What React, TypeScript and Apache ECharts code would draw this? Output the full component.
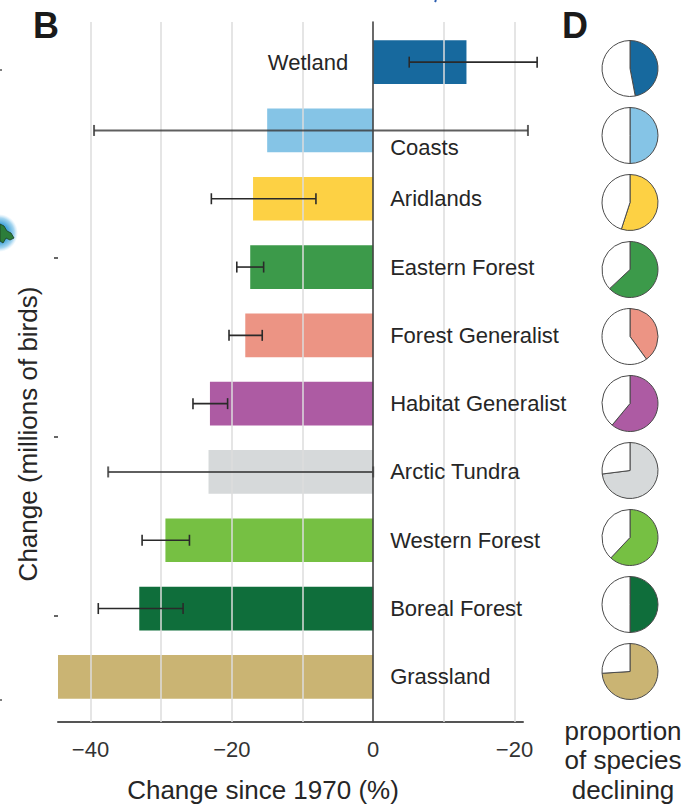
import React, { useEffect, useRef } from 'react';
import * as echarts from 'echarts';

const categories = [
  'Wetland', 'Coasts', 'Aridlands', 'Eastern Forest', 'Forest Generalist',
  'Habitat Generalist', 'Arctic Tundra', 'Western Forest', 'Boreal Forest', 'Grassland',
];
const changePct = [13.2, -15.0, -17.0, -17.4, -18.1, -23.1, -23.3, -29.4, -33.1, -53.3];
const errLow: (number | null)[] = [5.1, -39.5, -22.9, -19.3, -20.4, -25.5, -37.5, -32.7, -38.9, null];
const errHigh: (number | null)[] = [23.2, 21.9, -8.1, -15.5, -15.7, -20.6, 0, -26.0, -26.9, null];
const propDeclining = [0.47, 0.5, 0.55, 0.63, 0.4, 0.61, 0.73, 0.62, 0.5, 0.74];
const habitatColors = [
  '#17699e', '#85c4e6', '#fdd144', '#3c9a4a', '#ec9484',
  '#ad5ba3', '#d6d9da', '#76c043', '#0f6e3b', '#cab473',
];
const gridValues = [-40, -30, -20, -10, 10, 20];
const tickValues = [-40, -20, 0, 20];
const tickLabels = ['−40', '−20', '0', '−20'];

const FONT = '"Liberation Sans", Arial, Helvetica, sans-serif';
const TXT = '#262626';

export default function App() {
  const ref = useRef<HTMLDivElement>(null);
  useEffect(() => {
    const chart = echarts.init(ref.current!, null, { renderer: 'svg' });
    const X_MIN = -44.6;
    const X_MAX = 21.2;
    const PLOT_LEFT = 58;
    const PLOT_W = 465;

    const barData = changePct.map((v, i) => ({ value: v, itemStyle: { color: habitatColors[i] } }));
    const errData = categories.map((_, i) => [
      i,
      errLow[i] ?? 0,
      errHigh[i] ?? 0,
      changePct[i],
      errLow[i] == null ? 0 : 1,
    ]);

    const PIE_TOP = 68.5;
    const PIE_STEP = 67;
    const pieSeries = propDeclining.map((p, i) => ({
      type: 'pie',
      center: [630, PIE_TOP + PIE_STEP * i],
      radius: 28,
      startAngle: 90,
      clockwise: true,
      silent: true,
      label: { show: false },
      labelLine: { show: false },
      emphasis: { disabled: true },
      itemStyle: { borderColor: '#4a4a4a', borderWidth: 1 },
      data: [
        { value: p, itemStyle: { color: habitatColors[i] } },
        { value: 1 - p, itemStyle: { color: '#ffffff' } },
      ],
    }));

    const labelMap: Record<string, string> = {};
    tickValues.forEach((v, i) => { labelMap[String(v)] = tickLabels[i]; });

    const option: any = {
      animation: false,
      backgroundColor: '#ffffff',
      grid: [
        { left: PLOT_LEFT, width: PLOT_W, top: 28, height: 683 },
        { left: PLOT_LEFT, width: PLOT_W, top: 22, height: 700 },
      ],
      xAxis: [
        { type: 'value', gridIndex: 0, min: X_MIN, max: X_MAX, show: false },
        {
          type: 'value', gridIndex: 1, min: X_MIN, max: X_MAX,
          axisLine: { show: true, onZero: false, lineStyle: { color: '#555', width: 2 } },
          axisTick: { show: false },
          splitLine: { show: false },
          axisLabel: {
            customValues: tickValues,
            formatter: (v: number) => labelMap[String(v)] ?? '',
            margin: 16,
            color: '#333',
            fontSize: 22,
            fontFamily: FONT,
          },
        },
      ],
      yAxis: [
        { type: 'category', gridIndex: 0, data: categories, inverse: true, show: false },
        {
          type: 'value', gridIndex: 1, min: 0, max: 1, z: 10,
          axisLine: { show: true, onZero: true, lineStyle: { color: '#444', width: 1.6 } },
          axisTick: { show: false },
          axisLabel: { show: false },
          splitLine: { show: false },
        },
      ],
      series: [
        {
          type: 'scatter', xAxisIndex: 1, yAxisIndex: 1, z: 0, silent: true,
          symbolSize: 0, data: [[0, 0.5]],
          markLine: {
            silent: true, symbol: 'none', label: { show: false },
            lineStyle: { color: '#dcdcdc', type: 'solid', width: 1.5 },
            data: gridValues.map((v) => ({ xAxis: v })),
          },
        },
        {
          type: 'bar', xAxisIndex: 0, yAxisIndex: 0, z: 2, barWidth: '64%',
          data: barData, silent: true,
        },
        {
          type: 'custom', xAxisIndex: 0, yAxisIndex: 0, z: 5, silent: true, clip: false,
          encode: { x: [1, 2], y: 0 },
          data: errData,
          renderItem: (params: any, api: any) => {
            const cat = api.value(0);
            const lo = api.value(1);
            const hi = api.value(2);
            const val = api.value(3);
            const has = api.value(4);
            const zero = api.coord([0, cat]);
            const children: any[] = [];
            if (has) {
              const a = api.coord([lo, cat]);
              const b = api.coord([hi, cat]);
              const wide = hi - lo > 30;
              const stroke = wide ? 'rgba(55,55,55,0.8)' : '#2a2a2a';
              const lw = wide ? 2 : 1.6;
              const cap = 5.5;
              children.push({ type: 'line', shape: { x1: a[0], y1: a[1], x2: b[0], y2: b[1] }, style: { stroke, lineWidth: lw } });
              children.push({ type: 'line', shape: { x1: a[0], y1: a[1] - cap, x2: a[0], y2: a[1] + cap }, style: { stroke, lineWidth: lw } });
              children.push({ type: 'line', shape: { x1: b[0], y1: b[1] - cap, x2: b[0], y2: b[1] + cap }, style: { stroke, lineWidth: lw } });
            }
            const pos = val > 0;
            const shift = !pos && has && hi > 0 ? 17 : 0;
            children.push({
              type: 'text',
              x: pos ? zero[0] - 25 : zero[0] + 17,
              y: zero[1] + shift,
              style: {
                text: categories[params.dataIndex],
                fill: TXT, fontSize: 22, fontFamily: FONT,
                align: pos ? 'right' : 'left', verticalAlign: 'middle',
              },
            });
            return { type: 'group', children };
          },
        },
        ...pieSeries,
      ],
      graphic: [
        { type: 'text', left: 33, top: 7, style: { text: 'B', fill: '#1a1a1a', fontSize: 36, fontWeight: 'bold', fontFamily: FONT } },
        { type: 'text', left: 562, top: 7, style: { text: 'D', fill: '#1a1a1a', fontSize: 36, fontWeight: 'bold', fontFamily: FONT } },
        {
          type: 'text', x: 28, y: 434, rotation: Math.PI / 2,
          style: { text: 'Change (millions of birds)', fill: TXT, fontSize: 26, fontFamily: FONT, align: 'center', verticalAlign: 'middle' },
        },
        {
          type: 'text', x: 263, y: 790,
          style: { text: 'Change since 1970 (%)', fill: TXT, fontSize: 26, fontFamily: FONT, align: 'center', verticalAlign: 'middle' },
        },
        {
          type: 'text', x: 623, y: 760,
          style: { text: 'proportion\nof species\ndeclining', fill: TXT, fontSize: 26, lineHeight: 29.5, fontFamily: FONT, align: 'center', verticalAlign: 'middle' },
        },
        {
          type: 'circle', shape: { cx: -1, cy: 233, r: 19 },
          style: {
            fill: new echarts.graphic.RadialGradient(0.5, 0.5, 0.5, [
              { offset: 0, color: '#1680c2' },
              { offset: 0.5, color: '#4aa8dc' },
              { offset: 0.8, color: '#a6d6f0' },
              { offset: 1, color: 'rgba(200,230,248,0)' },
            ]),
          },
        },
        {
          type: 'polygon',
          shape: { points: [[0, 224], [4, 226], [7, 231], [11, 233], [14, 238], [10, 240], [6, 238], [3, 243], [0, 241]] },
          style: { fill: '#2c7d3a', stroke: '#1a3d22', lineWidth: 0.8 },
        },
        { type: 'line', shape: { x1: 54, y1: 258, x2: 58, y2: 258 }, style: { stroke: '#333', lineWidth: 1.5 } },
        { type: 'line', shape: { x1: 54, y1: 437, x2: 58, y2: 437 }, style: { stroke: '#333', lineWidth: 1.5 } },
        { type: 'line', shape: { x1: 54, y1: 616, x2: 58, y2: 616 }, style: { stroke: '#333', lineWidth: 1.5 } },
        { type: 'line', shape: { x1: 0, y1: 70, x2: 2, y2: 70 }, style: { stroke: '#555', lineWidth: 1.5 } },
        { type: 'line', shape: { x1: 0, y1: 700, x2: 2, y2: 700 }, style: { stroke: '#555', lineWidth: 1.5 } },
        { type: 'polyline', shape: { points: [[436, 0], [435, 2]] }, style: { stroke: '#2a5db0', lineWidth: 2 } },
      ],
    };

    chart.setOption(option);
    return () => chart.dispose();
  }, []);

  return (
    <div
      ref={ref}
      style={{ position: 'absolute', left: 0, top: 0, width: 686, height: 805, background: '#fff' }}
    />
  );
}
